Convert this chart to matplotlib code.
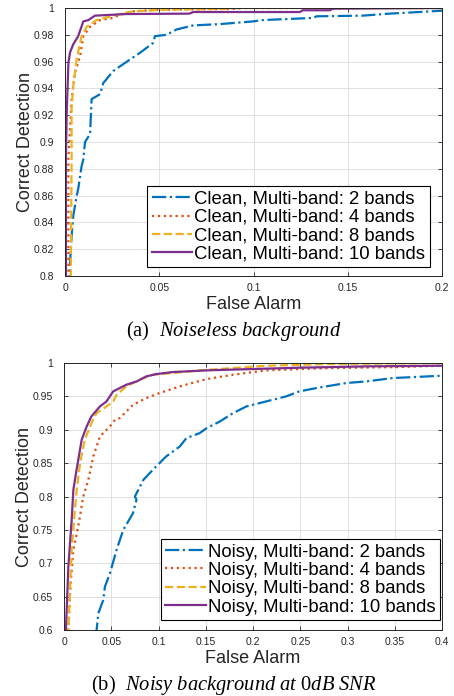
import matplotlib
matplotlib.use("Agg")
from matplotlib import pyplot as plt

plt.rcParams['font.family'] = ['Liberation Sans', 'DejaVu Sans']
plt.rcParams['mathtext.fontset'] = 'custom'
plt.rcParams['mathtext.rm'] = 'Liberation Serif'
plt.rcParams['mathtext.it'] = 'Liberation Serif:italic'

# ---- (a) noiseless background ----
clean_labels = ["Clean, Multi-band: 2 bands", "Clean, Multi-band: 4 bands",
                "Clean, Multi-band: 8 bands", "Clean, Multi-band: 10 bands"]
clean2_fa = [0.0027, 0.0027, 0.0035, 0.0044, 0.0062, 0.007, 0.0088, 0.0097, 0.0106, 0.0133, 0.0141,
             0.0186, 0.0203, 0.0256, 0.0345, 0.0398, 0.0468, 0.0477, 0.0539, 0.0592, 0.068, 0.0822,
             0.0998, 0.105, 0.1316, 0.1334, 0.158, 0.172, 0.1917, 0.2]
clean2_cd = [0.79, 0.81, 0.83, 0.845, 0.86, 0.865, 0.882, 0.887, 0.90, 0.906, 0.932,
             0.9357, 0.944, 0.953, 0.9616, 0.9666, 0.974, 0.979, 0.980, 0.984, 0.987, 0.988,
             0.990, 0.991, 0.9926, 0.9938, 0.9943, 0.9958, 0.9973, 0.998]
clean4_fa = [0.0018, 0.0018, 0.0035, 0.0053, 0.008, 0.0097, 0.0133, 0.0186, 0.0256, 0.029, 0.036,
             0.05, 0.089, 0.095, 0.2]
clean4_cd = [0.79, 0.887, 0.932, 0.952, 0.964, 0.979, 0.986, 0.991, 0.9926, 0.995, 0.9975,
             0.9988, 0.9993, 1.0, 1.0]
clean8_fa = [0.003, 0.0035, 0.0035, 0.0044, 0.0062, 0.0088, 0.0115, 0.0168, 0.0274, 0.036, 0.054,
             0.0857, 0.089, 0.2]
clean8_cd = [0.79, 0.887, 0.925, 0.942, 0.962, 0.979, 0.986, 0.991, 0.995, 0.9975, 0.9988,
             0.9993, 1.0, 1.0]
clean10_fa = [0.0005, 0.0005, 0.0009, 0.0018, 0.0027, 0.0044, 0.007, 0.0097, 0.0124, 0.0159, 0.0327,
              0.066, 0.068, 0.1246, 0.126, 0.1405, 0.142, 0.2]
clean10_cd = [0.79, 0.887, 0.922, 0.959, 0.967, 0.973, 0.979, 0.990, 0.991, 0.9943, 0.9955,
              0.9958, 0.997, 0.997, 0.9983, 0.9983, 0.9995, 1.0]

# ---- (b) noisy background at 0dB SNR ----
noisy_labels = ["Noisy, Multi-band: 2 bands", "Noisy, Multi-band: 4 bands",
                "Noisy, Multi-band: 8 bands", "Noisy, Multi-band: 10 bands"]
noisy2_fa = [0.034, 0.0345, 0.0363, 0.0415, 0.0433, 0.0486, 0.0556, 0.0627, 0.073, 0.0767, 0.075,
             0.084, 0.094, 0.108, 0.1225, 0.1295, 0.1436, 0.151, 0.165, 0.179, 0.193, 0.214, 0.235,
             0.249, 0.267, 0.2985, 0.32, 0.348, 0.4]
noisy2_cd = [0.59, 0.6, 0.625, 0.645, 0.665, 0.685, 0.72, 0.75, 0.775, 0.795, 0.80,
             0.825, 0.84, 0.86, 0.875, 0.8875, 0.895, 0.9025, 0.9125, 0.925, 0.935, 0.9425, 0.95,
             0.9575, 0.9625, 0.97, 0.9725, 0.9775, 0.981]
noisy4_fa = [0.0046, 0.0046, 0.007, 0.0099, 0.015, 0.0204, 0.0257, 0.031, 0.038, 0.0486, 0.054, 0.059,
             0.073, 0.087, 0.101, 0.1225, 0.151, 0.179, 0.214, 0.249, 0.284, 0.355, 0.4]
noisy4_cd = [0.59, 0.6, 0.67, 0.72, 0.755, 0.80, 0.825, 0.86, 0.89, 0.905, 0.915, 0.9175,
             0.9375, 0.9475, 0.955, 0.965, 0.976, 0.9825, 0.989, 0.991, 0.9925, 0.994, 0.996]
noisy8_fa = [0.0046, 0.0046, 0.0081, 0.0106, 0.0134, 0.017, 0.022, 0.029, 0.0345, 0.045, 0.052, 0.0556,
             0.066, 0.080, 0.094, 0.115, 0.144, 0.179, 0.214, 0.284, 0.4]
noisy8_cd = [0.59, 0.6, 0.72, 0.765, 0.81, 0.85, 0.885, 0.91, 0.925, 0.935, 0.9425, 0.9525,
             0.965, 0.975, 0.9825, 0.985, 0.989, 0.9925, 0.996, 0.9985, 1.0]
noisy10_fa = [0.002, 0.002, 0.0046, 0.0081, 0.0099, 0.0127, 0.0187, 0.024, 0.029, 0.038, 0.045, 0.052,
              0.066, 0.077, 0.087, 0.098, 0.115, 0.151, 0.2, 0.249, 0.32, 0.4]
noisy10_cd = [0.59, 0.6, 0.695, 0.765, 0.81, 0.835, 0.885, 0.905, 0.92, 0.935, 0.9425, 0.9575,
              0.9675, 0.9725, 0.98, 0.9835, 0.9865, 0.989, 0.991, 0.993, 0.995, 0.996]

colors = ['#0072BD', '#D95319', '#EDB120', '#7E2F8E']
styles = ['-.', ':', '--', '-']
dark = '#262626'


def style_axes(ax, xticks, yticks, xlabels, ylabels):
    ax.set_xticks(xticks)
    ax.set_xticklabels(xlabels)
    ax.set_yticks(yticks)
    ax.set_yticklabels(ylabels)
    ax.set_xlim(xticks[0], xticks[-1])
    ax.set_ylim(yticks[0], yticks[-1])
    ax.grid(True, color='#dcdcdc', linewidth=0.6)
    ax.set_axisbelow(True)
    ax.tick_params(direction='in', length=3, width=0.6, colors=dark, labelsize=7.5,
                   top=True, right=True)
    ax.tick_params(axis='y', pad=8)
    ax.tick_params(axis='x', pad=5)
    for sp in ax.spines.values():
        sp.set_color(dark)
        sp.set_linewidth(0.7)
    ax.set_xlabel("False Alarm", fontsize=13, color=dark, labelpad=2)
    ax.set_ylabel("Correct Detection", fontsize=13, color=dark, labelpad=0)


def add_legend(ax, anchor):
    leg = ax.legend(loc='lower right', bbox_to_anchor=anchor, fontsize=13.3,
                    frameon=True, fancybox=False, handlelength=2.2, handletextpad=0.1,
                    labelspacing=0.07, borderpad=0.25, borderaxespad=0)
    leg.get_frame().set_edgecolor('black')
    leg.get_frame().set_linewidth(0.8)
    leg.get_frame().set_alpha(1)
    return leg


fig = plt.figure(figsize=(4.54, 6.96), dpi=100)
ax1 = fig.add_axes([0.1432, 0.6034, 0.8304, 0.3851])
ax2 = fig.add_axes([0.1410, 0.0948, 0.8326, 0.3836])

clean_fa = [clean2_fa, clean4_fa, clean8_fa, clean10_fa]
clean_cd = [clean2_cd, clean4_cd, clean8_cd, clean10_cd]
for i in range(4):
    ax1.plot(clean_fa[i], clean_cd[i], linestyle=styles[i], color=colors[i], lw=1.6,
             label=clean_labels[i])
style_axes(ax1, [0, 0.05, 0.1, 0.15, 0.2],
           [0.8, 0.82, 0.84, 0.86, 0.88, 0.9, 0.92, 0.94, 0.96, 0.98, 1.0],
           ["0", "0.05", "0.1", "0.15", "0.2"],
           ["0.8", "0.82", "0.84", "0.86", "0.88", "0.9", "0.92", "0.94", "0.96", "0.98", "1"])
add_legend(ax1, (0.968, 0.033))

noisy_fa = [noisy2_fa, noisy4_fa, noisy8_fa, noisy10_fa]
noisy_cd = [noisy2_cd, noisy4_cd, noisy8_cd, noisy10_cd]
for i in range(4):
    ax2.plot(noisy_fa[i], noisy_cd[i], linestyle=styles[i], color=colors[i], lw=1.6,
             label=noisy_labels[i])
style_axes(ax2, [0, 0.05, 0.1, 0.15, 0.2, 0.25, 0.3, 0.35, 0.4],
           [0.6, 0.65, 0.7, 0.75, 0.8, 0.85, 0.9, 0.95, 1.0],
           ["0", "0.05", "0.1", "0.15", "0.2", "0.25", "0.3", "0.35", "0.4"],
           ["0.6", "0.65", "0.7", "0.75", "0.8", "0.85", "0.9", "0.95", "1"])
add_legend(ax2, (0.995, 0.037))

fig.text(0.515, 0.524, r"(a)  $\it{Noiseless\ background}$", ha='center', va='center',
         fontsize=14.8, family='Liberation Serif')
fig.text(0.515, 0.016, r"(b)  $\it{Noisy\ background\ at\ }\mathrm{0}\it{dB\ SNR}$", ha='center',
         va='center', fontsize=14.8, family='Liberation Serif')

plt.savefig("out.png", dpi=100)
